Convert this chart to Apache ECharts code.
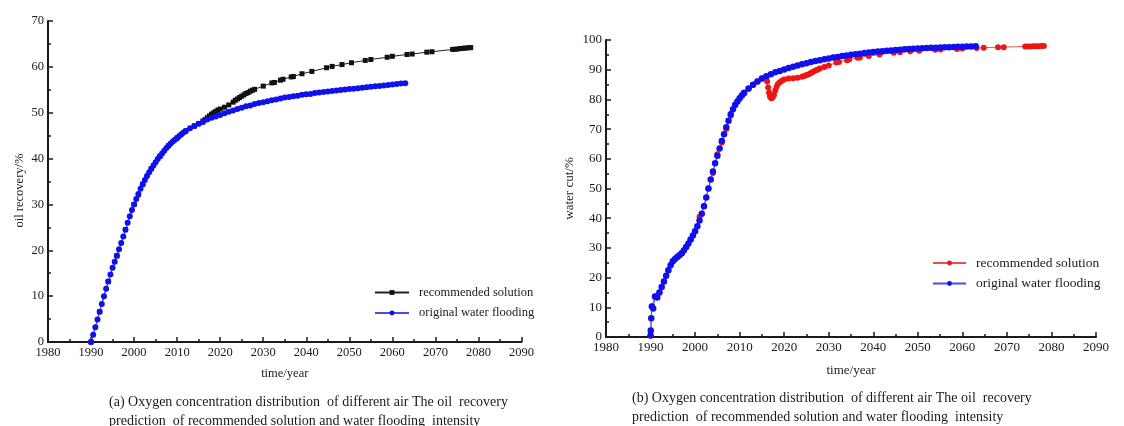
<!DOCTYPE html>
<html lang="en">
<head>
    <meta charset="UTF-8">
    <title>oil recovery / water cut</title>
    <script src="https://cdn.jsdelivr.net/npm/echarts@6.0.0/dist/echarts.min.js"></script>
    <style>
        html, body {margin: 0; padding: 0; background: #fff;}
        #main {width: 1124px; height: 426px;}
    </style>
</head>
<body>
<div id="main"></div>
<script type="text/javascript">
    // (a) oil recovery, original water flooding
    var owfRecYears = [1990, 1990.5, 1991, 1991.5, 1992, 1992.5, 1993, 1993.5, 1994, 1994.5, 1995, 1995.5, 1996, 1996.5,
        1997, 1997.5, 1998, 1998.5, 1999, 1999.5, 2000, 2000.5, 2001, 2001.5, 2002, 2002.5, 2003, 2003.5, 2004, 2004.5,
        2005, 2005.5, 2006, 2006.5, 2007, 2007.5, 2008, 2008.5, 2009, 2009.5, 2010, 2010.5, 2011, 2011.5, 2012,
        2013, 2014, 2015, 2016, 2017, 2018, 2019, 2020, 2021, 2022, 2023, 2024, 2025, 2026, 2027, 2028, 2029, 2030,
        2031, 2032, 2033, 2034, 2035, 2036, 2037, 2038, 2039, 2040, 2041, 2042, 2043, 2044, 2045, 2046, 2047, 2048,
        2049, 2050, 2051, 2052, 2053, 2054, 2055, 2056, 2057, 2058, 2059, 2060, 2061, 2062, 2063];
    var owfRecovery = [0, 1.6, 3.2, 4.9, 6.6, 8.3, 10, 11.6, 13.2, 14.7, 16.2, 17.5, 18.8, 20.2,
        21.6, 23, 24.5, 26, 27.4, 28.8, 30, 31.2, 32.3, 33.4, 34.4, 35.3, 36.2, 37, 37.8, 38.5,
        39.2, 39.9, 40.5, 41.1, 41.7, 42.3, 42.8, 43.3, 43.7, 44.1, 44.5, 44.9, 45.3, 45.7, 46,
        46.6, 47.1, 47.6, 48.0, 48.5, 48.9, 49.2, 49.5, 49.9, 50.2, 50.5, 50.8, 51.1, 51.4, 51.6, 51.9, 52.1, 52.3,
        52.5, 52.7, 52.9, 53.1, 53.3, 53.4, 53.6, 53.7, 53.9, 54.0, 54.1, 54.3, 54.4, 54.5, 54.65, 54.75, 54.85, 54.95,
        55.05, 55.15, 55.25, 55.35, 55.45, 55.55, 55.65, 55.75, 55.85, 55.95, 56.05, 56.15, 56.25, 56.35, 56.45];

    // (a) oil recovery, recommended solution
    var recRecYears = [1990, 1992, 1994, 1996, 1998, 2000, 2001, 2002, 2004, 2006, 2008, 2010, 2012, 2014, 2015,
        2016, 2016.5, 2017, 2017.5, 2018, 2018.5, 2019, 2019.5, 2020, 2021, 2022, 2023, 2023.5, 2024, 2024.5, 2025,
        2025.5, 2026, 2026.5, 2027, 2027.5, 2028, 2030, 2032, 2032.6, 2034, 2034.6, 2036.5, 2037, 2039, 2041.3,
        2044.7, 2046, 2048.3, 2050.5, 2053.7, 2055, 2058.8, 2060, 2063.4, 2064.6, 2068, 2069.2, 2074, 2074.6,
        2075.2, 2075.8, 2076.4, 2077, 2077.6, 2078.2];
    var recRecovery = [0, 6.6, 13.2, 18.8, 24.5, 30, 32.1, 34.4, 37.8, 40.5, 42.8, 44.5, 46, 47.1, 47.6,
        48.2, 48.5, 48.9, 49.3, 49.7, 50.0, 50.3, 50.6, 50.8, 51.2, 51.7, 52.3, 52.7, 53.0, 53.3, 53.6,
        53.9, 54.2, 54.4, 54.7, 54.9, 55.1, 55.8, 56.5, 56.6, 57.1, 57.3, 57.8, 57.9, 58.5, 59.0,
        59.8, 60.1, 60.5, 60.9, 61.4, 61.6, 62.1, 62.3, 62.7, 62.8, 63.2, 63.3, 63.8, 63.85,
        63.9, 64.0, 64.05, 64.1, 64.15, 64.2];

    // (b) water cut, original water flooding
    var owfCutYears = [1990, 1990.05, 1990.15, 1990.3, 1990.6, 1991, 1991.5, 1992, 1992.5, 1993, 1993.5, 1994, 1994.5,
        1995, 1995.5, 1996, 1996.5, 1997, 1997.5, 1998, 1998.5, 1999, 1999.5, 2000, 2000.5, 2001, 2001.5, 2002, 2002.5,
        2003, 2003.5, 2004, 2004.5, 2005, 2005.5, 2006, 2006.5, 2007, 2007.5, 2008, 2008.5, 2009, 2009.5, 2010, 2010.5,
        2011, 2012, 2013, 2014, 2015, 2016, 2017, 2018, 2019, 2020, 2021, 2022, 2023, 2024, 2025, 2026, 2027, 2028,
        2029, 2030, 2031, 2032, 2033, 2034, 2035, 2036, 2037, 2038, 2039, 2040, 2041, 2042, 2043, 2044, 2045, 2046,
        2047, 2048, 2049, 2050, 2051, 2052, 2053, 2054, 2055, 2056, 2057, 2058, 2059, 2060, 2061, 2062, 2063];
    var owfWaterCut = [0.5, 2.2, 6.3, 10.3, 9.6, 13.6, 13.3, 15, 16.8, 18.7, 20.6, 22.5, 24.2,
        25.5, 26.3, 26.9, 27.5, 28.2, 29.2, 30.3, 31.5, 32.8, 34.2, 35.6, 37.3, 39.2, 41.5, 44, 47,
        50, 53, 55.7, 58.5, 61, 63.5, 66, 68.3, 70.6, 72.8, 75, 76.7, 78.2, 79.3, 80.4, 81.3,
        82.2, 83.7, 84.9, 86, 87, 87.8, 88.5, 89.1, 89.6, 90.1, 90.6, 91, 91.4, 91.8, 92.2, 92.6, 92.9, 93.2,
        93.5, 93.8, 94.1, 94.3, 94.6, 94.8, 95.0, 95.2, 95.4, 95.6, 95.8, 95.95, 96.1, 96.25, 96.4, 96.5, 96.65, 96.75,
        96.85, 96.95, 97.05, 97.15, 97.2, 97.3, 97.35, 97.4, 97.5, 97.55, 97.6, 97.65, 97.7, 97.75, 97.8, 97.85, 97.9];

    // (b) water cut, recommended solution
    var recCutYears = [1990, 1990.3, 1991, 1992, 1993, 1994, 1995, 1996, 1997, 1998, 1999, 2000, 2001, 2002, 2003,
        2004, 2005, 2006, 2007, 2008, 2009, 2010, 2011, 2012, 2013, 2014, 2015, 2016, 2016.2, 2016.4, 2016.6,
        2016.8, 2017.1, 2017.4, 2017.7, 2018, 2018.3, 2018.6, 2019, 2019.5, 2020, 2021, 2022, 2023, 2024, 2024.5,
        2025, 2025.5, 2026, 2026.5, 2027, 2027.5, 2028, 2029, 2030, 2031.7, 2032.3, 2034.1, 2034.6, 2036.5, 2037,
        2039, 2041.4, 2044.6, 2046, 2048.3, 2050.3, 2053.9, 2055.1, 2058.8, 2060, 2063.2, 2064.8, 2068, 2069.3,
        2074.1, 2074.7, 2075.3, 2075.9, 2076.5, 2077.1, 2077.7, 2078.3];
    var recWaterCut = [0.5, 10.3, 13.6, 15, 18.7, 22.5, 25.5, 26.9, 28.2, 30.3, 32.8, 35.6, 40.5, 44, 50,
        55.2, 61.5, 65.5, 70, 74.5, 78, 80.2, 82, 83.6, 84.9, 86, 87, 87.6, 86, 84, 82.2,
        81, 80.4, 80.6, 81.5, 83, 84.3, 85.2, 85.8, 86.3, 86.7, 87, 87.1, 87.3, 87.6, 87.9,
        88.2, 88.5, 88.9, 89.3, 89.7, 90.0, 90.4, 90.9, 91.4, 92.4, 92.6, 93.2, 93.4, 94.0, 94.1,
        94.6, 95.1, 95.7, 95.9, 96.2, 96.4, 96.7, 96.8, 97.0, 97.1, 97.3, 97.4, 97.6, 97.6,
        97.8, 97.8, 97.85, 97.9, 97.9, 97.9, 97.95, 97.95];

    var yearTicks = [1980, 2090, 10];

    function pairs(xs, ys) {
        var out = [];
        for (var i = 0; i < xs.length; i++) {
            out.push([xs[i], ys[i]]);
        }
        return out;
    }

    var font = 'Liberation Serif';
    var ink = '#1a1a1a';
    var plain = function (v) { return String(v); };

    function xAxisFor(idx, fs, gap, margin) {
        return {
            gridIndex: idx, type: 'value',
            min: yearTicks[0], max: yearTicks[1], interval: yearTicks[2],
            name: 'time/year', nameLocation: 'middle', nameGap: gap,
            nameTextStyle: {fontFamily: font, fontSize: fs, color: ink},
            axisLine: {lineStyle: {color: ink, width: 2}},
            axisTick: {inside: true, length: 5, lineStyle: {color: ink, width: 1.5}},
            minorTick: {show: true, splitNumber: 2, length: 3, lineStyle: {color: ink, width: 1.5}},
            splitLine: {show: false},
            axisLabel: {fontFamily: font, fontSize: fs, color: ink, margin: margin, formatter: plain}
        };
    }

    function yAxisFor(idx, max, name, fs, gap, namePad) {
        return {
            gridIndex: idx, type: 'value',
            min: 0, max: max, interval: 10,
            name: name, nameLocation: 'middle', nameGap: gap,
            nameTextStyle: {fontFamily: font, fontSize: fs, color: ink, padding: namePad},
            axisLine: {show: true, lineStyle: {color: ink, width: 2}},
            axisTick: {show: true, inside: true, length: 5, lineStyle: {color: ink, width: 1.5}},
            minorTick: {show: true, splitNumber: 2, length: 3, lineStyle: {color: ink, width: 1.5}},
            splitLine: {show: false},
            axisLabel: {fontFamily: font, fontSize: fs, color: ink, margin: 4, formatter: plain}
        };
    }

    var stripTag = function (name) { return name.slice(2); };

    var myChart = echarts.init(document.getElementById('main'));
    var option = {
        animation: false,
        backgroundColor: '#fff',
        title: [
            {
                text: '(a) Oxygen concentration distribution  of different air The oil  recovery\nprediction  of recommended solution and water flooding  intensity',
                left: 104, top: 388,
                textStyle: {fontFamily: font, fontSize: 14, fontWeight: 'normal', color: ink, lineHeight: 19}
            },
            {
                text: '(b) Oxygen concentration distribution  of different air The oil  recovery\nprediction  of recommended solution and water flooding  intensity',
                left: 627, top: 384,
                textStyle: {fontFamily: font, fontSize: 14, fontWeight: 'normal', color: ink, lineHeight: 19}
            }
        ],
        grid: [
            {left: 48, top: 21, width: 473.5, height: 321},
            {left: 606, top: 40, width: 490, height: 297}
        ],
        xAxis: [xAxisFor(0, 12.5, 25, 4), xAxisFor(1, 13, 27, 4)],
        yAxis: [
            yAxisFor(0, 70, 'oil recovery/%', 12.5, 22, [0, 18, 0, 0]),
            yAxisFor(1, 100, 'water cut/%', 13, 30, 0)
        ],
        legend: [
            {
                orient: 'vertical', left: 369, top: 281, itemWidth: 34, itemHeight: 6, itemGap: 7.5,
                data: ['a:recommended solution', 'a:original water flooding'],
                formatter: stripTag,
                textStyle: {fontFamily: font, fontSize: 12.5, color: ink, padding: [0, 0, 0, 5]}
            },
            {
                orient: 'vertical', left: 927, top: 251, itemWidth: 33, itemHeight: 6, itemGap: 6.5,
                data: ['b:recommended solution', 'b:original water flooding'],
                formatter: stripTag,
                textStyle: {fontFamily: font, fontSize: 13.5, color: ink, padding: [0, 0, 0, 5]}
            }
        ],
        series: [
            {
                name: 'a:recommended solution', type: 'line', xAxisIndex: 0, yAxisIndex: 0,
                data: pairs(recRecYears, recRecovery),
                symbol: 'rect', symbolSize: 5,
                itemStyle: {color: '#111'}, lineStyle: {color: '#222', width: 1}
            },
            {
                name: 'a:original water flooding', type: 'line', xAxisIndex: 0, yAxisIndex: 0,
                data: pairs(owfRecYears, owfRecovery),
                symbol: 'circle', symbolSize: 6,
                itemStyle: {color: '#1010ee'}, lineStyle: {color: '#4a4ae8', width: 1}
            },
            {
                name: 'b:recommended solution', type: 'line', xAxisIndex: 1, yAxisIndex: 1,
                data: pairs(recCutYears, recWaterCut),
                symbol: 'circle', symbolSize: 6,
                itemStyle: {color: '#f01414'}, lineStyle: {color: '#e85050', width: 1}
            },
            {
                name: 'b:original water flooding', type: 'line', xAxisIndex: 1, yAxisIndex: 1,
                data: pairs(owfCutYears, owfWaterCut),
                symbol: 'circle', symbolSize: 6.5,
                itemStyle: {color: '#1010ee'}, lineStyle: {color: '#4a4ae8', width: 1}
            }
        ]
    };
    myChart.setOption(option);
</script>
</body>
</html>
